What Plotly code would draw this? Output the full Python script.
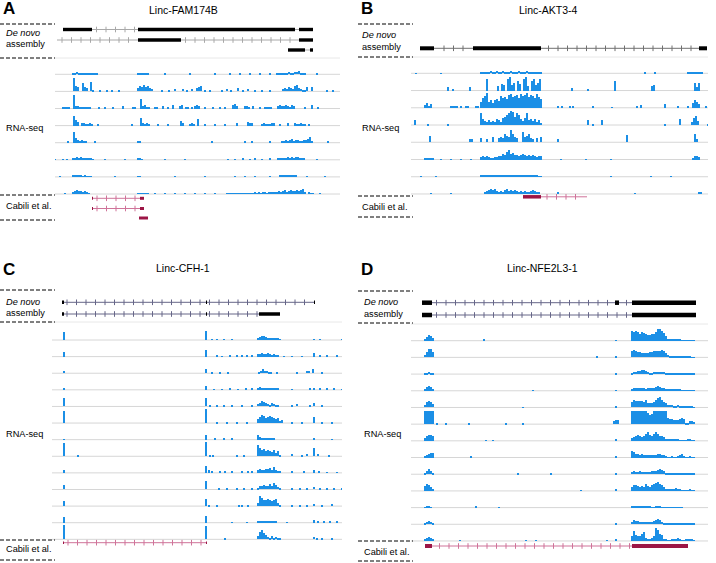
import numpy as np
import plotly.graph_objects as go

STEP = 2  # coverage bin step (position units)

# ---------------- Panel A: Linc-FAM174B ----------------
A_TRACKS = [
    [[18, [1, 1.5, 2, 1.5, 1, 1, 1.2, 1, 0.8, 1, 0.8, 1, 0.5]], [83, [1, 0.8, 1, 0.6, 0.8, 1]],
     [110, [0.6]], [135, [0.5]], [160, [0.6]], [175, [0.8]], [185, [0.6]], [195, [0.8]], [205, [0.8]], [215, [0.6]],
     [222, [1, 1.2, 1, 1.5, 1.3, 1.5, 2, 1.8, 1.5, 2.5, 2, 3, 1.2, 0.8, 1.5]], [262, [0.5]]],
    [[19, [13, 5, 4]], [28, [8, 4, 3]], [36, [9, 1]], [45, [1]], [52, [1]], [57, [1]], [64, [1]],
     [83, [3, 5, 4, 6, 4, 5, 3, 2]], [107, [1]], [114, [1.5]], [120, [2]], [128, [2]], [132, [1]], [137, [2]],
     [142, [3, 4, 5]], [150, [1]], [155, [1]], [167, [1]], [172, [2]], [176, [1.5]], [183, [3]], [188, [1.5]],
     [193, [2]], [200, [1.5]], [207, [1]], [215, [1]], [228, [2, 3, 2, 4, 3, 2, 5, 6, 3, 2, 1, 1, 4]],
     [257, [4]], [272, [1]], [278, [1]]],
    [[8, [1, 2, 1, 2]], [19, [14, 3, 3, 2, 2, 2, 1.5, 2, 1.5]], [44, [1]], [50, [1]], [58, [1]], [68, [3]],
     [78, [2, 2]], [86, [10, 3, 4, 2, 2]], [100, [2, 2]], [108, [3]], [113, [2]], [118, [4]], [125, [3, 4]],
     [131, [2, 2]], [137, [2]], [140, [3, 4, 3]], [150, [1]], [158, [1]], [165, [1]], [170, [1]],
     [178, [4, 5, 3]], [190, [3, 3, 1]], [198, [3]], [205, [1]], [210, [2, 2, 1, 2]],
     [223, [3, 4, 3, 3, 4, 3, 2, 4, 3]], [250, [1]], [257, [4]], [263, [2]]],
    [[19, [10, 6, 4]], [27, [3, 3, 2, 2, 3, 2]], [43, [1]], [77, [1]], [86, [8, 3, 2, 3, 2]], [103, [2]],
     [113, [1.5]], [126, [5, 3]], [135, [2, 3, 2]], [143, [7]], [150, [2]], [160, [1]], [170, [2]], [182, [3]],
     [193, [4, 3, 3]], [207, [2, 3, 2, 2, 1, 3, 3]], [225, [2]], [233, [3]], [240, [3, 2, 2, 3, 2, 1]],
     [254, [1]]],
    [[13, [1]], [19, [11, 5, 3, 2, 3, 2, 1]], [40, [1]], [83, [2, 2]], [157, [1]], [190, [1]], [197, [2]],
     [215, [2]], [227, [1, 2, 3, 2, 3, 4, 2, 3, 3, 2, 2, 3, 3, 4, 6, 1]], [273, [1]]],
    [[0, [0.5]], [8, [0.5]], [12, [0.5]], [18, [1.5, 2, 2.5, 2, 2.5, 2, 1.5, 2, 1.5, 1, 0.8]], [50, [0.5]],
     [70, [0.5]], [83, [1, 1, 0.8]], [110, [0.5]], [130, [0.5]], [173, [0.8]], [180, [0.8]], [188, [1]],
     [195, [0.8]], [200, [1]], [207, [0.8]], [215, [1]],
     [223, [1.5, 2, 1.5, 2, 2, 2.5, 2, 3, 2, 2.5, 3, 2, 1.5, 1]], [262, [0.5]]],
    [[5, [0.5]], [18, [1, 1, 1.2, 1, 1, 0.8, 1, 0.8, 0.8, 0.5]], [60, [0.5]], [83, [0.8, 0.5]], [120, [0.5]],
     [150, [0.5]], [180, [0.8]], [190, [0.6]], [200, [0.8]], [215, [0.8]],
     [225, [1, 1, 1.2, 1, 1.5, 1.2, 1, 1.5, 1]], [252, [0.8]], [270, [0.5]]],
    [[10, [0.5]], [18, [2, 3, 4, 3, 3, 2, 3, 2, 1]], [83, [1, 1, 0.8, 1, 1, 0.8]], [100, [0.8]], [110, [0.8]],
     [120, [1]], [130, [0.8]], [140, [1]], [150, [0.8]], [160, [1]],
     [172, [1, 0.8, 1, 1, 0.8, 1, 1, 0.8, 1, 1, 1, 0.8, 1, 1, 1.2, 1, 1.5, 1, 1.2, 1.5, 1, 1.5, 1.2, 1.5, 2]],
     [222, [2, 3, 2, 3, 4, 2, 3, 4, 3, 3, 4, 3, 4, 5, 2]], [254, [1.5, 1, 1]], [265, [0.5]]],
]
A_GENE_SPANS = [[8, 258], [2, 258], [233, 258]]
A_GENE_EXONS = [[[8, 37], [83, 240], [244, 258]], [[83, 126], [244, 258]], [[233, 250], [255, 258]]]
A_CAB_SPANS = [[37, 89], [37, 89], [84, 93]]
A_CAB_EXONS = [[[37, 38], [85, 89]], [[37, 38], [85, 89]], [[84, 93]]]

# ---------------- Panel B: Linc-AKT3-4 ----------------
B_TRACKS = [
    [[5, [0.3]], [30, [0.3]],
     [70, [1, 1.5, 1, 1.5, 1.2, 2, 1.5, 1.2, 2, 1.5, 1.5, 2, 1.5, 1.2, 1.5, 2, 1.5, 1.2, 1.5, 2, 1.5, 1.5, 1.2, 2,
           1.5, 1.5, 1.2, 1.5, 1.2, 1.5, 1]], [234, [0.5]], [244, [0.5]], [277, [1, 0.5, 1, 0.5, 1, 1.5, 1, 0.5]]],
    [[37, [4]], [42, [1]], [59, [4]], [76, [12]],
     [87, [5, 0, 7, 6, 0, 12, 14, 6, 8, 0, 10, 7, 0, 12, 14, 5, 0, 10, 12, 6, 8, 12]],
     [161, [3]], [177, [2]], [204, [10]], [241, [5, 6]], [284, [8, 4, 8]]],
    [[14, [3, 5, 2, 4]], [40, [1, 1, 1.5, 1, 0, 1.5]], [55, [1.5, 1.5]], [65, [1, 2]],
     [70, [6, 10, 12, 15, 6, 8, 5, 8, 9, 7, 12, 10, 11, 9, 13, 14, 11, 12, 13, 10, 14, 12, 13, 15, 11, 13, 12, 10,
           14, 11, 9]],
     [147, [1]], [151, [1]], [159, [2]], [162, [1.5]], [182, [1]], [201, [0.5]], [226, [2]], [230, [3]],
     [254, [4]], [267, [2]], [277, [2]], [282, [5, 8, 6, 4]], [295, [1]]],
    [[4, [5]], [17, [1]], [37, [0.5]],
     [70, [12, 6, 4, 3, 5, 3, 4, 3, 6, 5, 3, 7, 8, 10, 12, 14, 13, 8, 12, 10, 6, 4, 7, 12, 5, 6, 4, 6, 3, 5, 2]],
     [177, [5]], [182, [1]], [191, [5]], [254, [1]], [269, [6]], [281, [3, 7, 9, 4]], [297, [1]]],
    [[19, [6]], [59, [3, 3]],
     [70, [4, 0, 0, 3, 0, 0, 5, 0, 0, 4, 5, 4, 8, 6, 5, 12, 8, 5, 4, 0, 0, 10, 5, 6, 8, 4, 3, 0, 4, 0, 5]],
     [147, [3]], [216, [7]], [284, [8, 3]]],
    [[14, [1.5, 1.5, 1, 1.5, 1]], [30, [0.5]], [40, [0.5]], [50, [0.5]], [60, [0.5]],
     [70, [3, 4, 3, 4, 3, 2, 2, 3, 3, 4, 4, 6, 5, 8, 10, 6, 7, 5, 5, 4, 5, 6, 5, 4, 5, 4, 5, 4, 3, 4, 4]],
     [150, [0.5]], [175, [0.5]], [200, [0.5]], [282, [2, 4, 4, 3]]],
    [[10, [0.5]], [25, [0.5]],
     [70, [1, 1, 1.2, 1, 1, 1, 1, 1.2, 1.5, 1.5, 2, 2, 1.5, 1, 1, 0.8, 1, 1, 1.2, 1, 1, 1, 1, 0.8, 1, 1, 1, 1, 0.8,
           0.5, 0.5]],
     [200, [0.5]], [240, [0.5]], [260, [0.5]]],
    [[20, [0.5]], [40, [0.5]],
     [74, [2, 3, 4, 5, 4, 5, 3, 2, 3, 2, 4, 5, 3, 4, 3, 4, 3, 2, 3, 2, 3, 2, 1.5, 3, 4, 3, 2, 1]],
     [147, [1]], [224, [0.5]], [288, [1, 1]]],
]
B_GENE_SPANS = [[9, 296]]
B_GENE_EXONS = [[[9, 23], [62, 130], [288, 296]]]
B_CAB_SPANS = [[112, 176]]
B_CAB_EXONS = [[[112, 130]]]

# ---------------- Panel C: Linc-CFH-1 ----------------
C_TRACKS = [
    [[12, [8]], [154, [9]], [160, [1]], [165, [0.5]], [172, [1]], [180, [1]],
     [206, [2, 3, 4, 4, 3, 2, 1.5, 1.5, 1.5, 1.5, 1.5, 1]], [262, [1]], [268, [0.5]], [290, [0.5]]],
    [[12, [5]], [154, [7]], [165, [1]], [170, [0.5]], [178, [1]], [185, [1]], [190, [1]], [195, [1]], [200, [1]],
     [206, [3, 3, 4, 3, 3, 4, 3, 2, 3, 1.5, 1]], [232, [0.5]], [240, [0.5]], [250, [0.5]], [262, [4]],
     [268, [1]], [275, [1]], [285, [1]]],
    [[12, [2]], [154, [4]], [160, [1]], [168, [0.5]], [176, [0.5]], [207, [1, 2, 4, 2, 2, 1, 1]], [225, [1]],
     [245, [0.5]], [255, [2, 2, 0, 4]], [270, [1]]],
    [[12, [2]], [154, [4]], [162, [0.5]], [170, [0.5]], [178, [1]], [186, [0.5]], [194, [1]], [200, [1]],
     [206, [2, 3, 2, 2, 2, 1.5, 2, 1.5, 1.5, 1, 1]], [240, [0.5]], [258, [1]], [262, [1]], [268, [1]],
     [275, [1]], [282, [1]], [290, [0.5]]],
    [[12, [8]], [154, [8]], [158, [1]], [165, [1]], [172, [1]], [180, [1]], [190, [1]], [200, [1]],
     [206, [2, 3, 5, 4, 3, 2, 1.5, 3, 2, 1, 0.5]], [240, [1]], [245, [2]], [258, [1.5]], [262, [3]], [270, [1]]],
    [[12, [12]], [154, [14]], [165, [0.5]], [175, [0.5]], [185, [0.5]], [195, [0.5]],
     [206, [4, 6, 8, 7, 5, 6, 7, 6, 5, 4, 5, 2]], [230, [3]], [240, [0.5]], [250, [0.5]], [262, [6]],
     [270, [1.5]], [280, [0.5]]],
    [[12, [0.5]], [154, [5]], [163, [2]], [172, [1]], [180, [1]], [206, [5, 3, 2, 2, 2, 2, 1.5, 2, 1]],
     [262, [1]], [280, [0.5]]],
    [[12, [13]], [26, [1]], [154, [14]], [158, [1]], [161, [1]], [185, [1]], [192, [1.5]],
     [206, [11, 8, 6, 7, 5, 6, 5, 4, 6, 3, 5, 1]], [240, [2]], [250, [1]], [255, [2]], [262, [8]], [266, [2]],
     [277, [1.5]]],
    [[12, [3]], [154, [7]], [157, [3]], [160, [1]], [168, [1.5]], [173, [2]], [180, [1]], [190, [1.5]],
     [196, [1]], [200, [1]], [206, [3, 4, 3, 3, 4, 4, 5, 3, 6, 3, 2, 1.5]], [240, [1]], [252, [2]], [262, [3]],
     [267, [1]], [275, [0.5]], [285, [0.5]]],
    [[12, [4]], [154, [8]], [167, [1]], [175, [1]], [185, [1]], [192, [1]], [200, [1]],
     [206, [1, 3, 3, 4, 3, 3, 5, 3, 6, 4, 2, 1]], [240, [1]], [248, [1]], [255, [1.5]], [262, [2]], [268, [1]],
     [275, [1.5]], [282, [1]], [290, [1]]],
    [[12, [5]], [154, [7]], [157, [1]], [165, [0.5]], [187, [1]], [190, [1]], [196, [1]],
     [206, [3, 10, 8, 6, 6, 7, 6, 5, 6, 7, 3, 1]], [240, [0.5]], [248, [1]], [255, [1]], [262, [2]], [270, [1]],
     [280, [2]]],
    [[12, [6]], [154, [7]], [180, [0.5]], [195, [0.5]], [206, [1, 2, 1.5, 1.5, 1, 1.5, 1, 1, 1, 1]], [235, [0.5]],
     [262, [3]], [266, [1]], [272, [1]], [278, [1]], [285, [1]]],
    [[12, [14]], [154, [13]], [173, [0.5]], [206, [3, 7, 9, 6, 4, 2, 1, 3, 1, 2, 1, 0.5]], [262, [2]], [265, [1]],
     [270, [1]], [280, [0.5]]],
]
C_GENE_SPANS = [[10, 263], [10, 228]]
C_GENE_EXONS = [[[10, 12], [154, 155], [262, 263]], [[10, 12], [154, 155], [207, 228]]]
C_CAB_SPANS = [[11, 155]]
C_CAB_EXONS = [[[11, 12], [154, 155]]]

# ---------------- Panel D: Linc-NFE2L3-1 ----------------
D_TRACKS = [
    [[14, [2, 4, 6, 5, 3]], [73, [1]], [205, [0.5]],
     [221, [10, 9, 10, 9, 7, 9, 8, 7, 6, 6, 7, 7, 9, 12, 12, 10, 8, 5, 2, 2, 2, 1, 1, 2, 1, 0.5, 0.5, 0.5, 0.5, 0.5,
            0.5, 0.3]]],
    [[14, [2, 5, 8, 8, 5]], [186, [0.5]], [205, [1.5]],
     [221, [6, 7, 6, 5, 5, 4, 4, 4, 4, 5, 5, 6, 6, 6, 6, 7, 6, 4, 2, 1.5, 1, 1, 1.5, 1.5, 1.5, 1, 0.5, 0.5, 0.5, 0.5,
            0.3, 0.3]]],
    [[14, [0.5, 1.5, 2, 1.5, 0.5]], [205, [0.3]],
     [221, [1.5, 2, 2.5, 3, 3, 4, 4, 3, 2, 1.5, 1.5, 2, 2.5, 2.5, 2, 2, 2, 1, 0.5, 0.5, 0.5, 0.5, 0.5, 0.5, 0.5,
            0.3, 0.3, 0.3, 0.3, 0.3, 0.3, 0.3]]],
    [[14, [1.5, 4, 5, 4, 2]], [122, [0.5]], [205, [0.5]],
     [221, [2, 3, 3, 2.5, 3, 2.5, 3, 2, 2.5, 3, 2.5, 3, 4, 5, 4, 3, 3, 2, 1, 1, 1, 1, 2, 2, 1, 0.5, 0.5, 0.5, 0.5,
            0.5, 0.5, 0.3]]],
    [[14, [2, 5, 6, 5, 3]], [112, [0.3]], [205, [0.5]],
     [221, [5, 7, 6, 6, 6, 6, 5, 7, 4, 4, 4, 5, 7, 9, 10, 7, 5, 4, 2, 2, 2, 1.5, 1.5, 2, 1.5, 0.5, 0.5, 1, 1, 1,
            0.5, 0.3]]],
    [[14, [13, 13, 13, 13, 13]], [26, [0.5]], [35, [0.5]], [58, [0.5]], [95, [0.5]], [112, [0.5]],
     [203, [3, 4, 4]],
     [221, [13, 13, 13, 13, 13, 13, 13, 13, 11, 9, 10, 13, 13, 13, 13, 13, 13, 13, 6, 5, 5, 4, 4, 4, 5, 6, 5, 1, 1,
            3, 3, 2]]],
    [[14, [3, 5, 6, 6, 5]], [75, [0.5]], [82, [0.5]], [205, [1.5]],
     [221, [3, 4, 5, 6, 5, 4, 5, 7, 9, 6, 5, 7, 9, 7, 5, 5, 4, 2, 1.5, 1.5, 1, 1, 1, 1, 0.5, 0.5, 0.5, 0.5, 1, 1,
            0.5, 0.3]]],
    [[14, [2, 3, 4, 5, 5]], [60, [1]], [205, [1.5]],
     [221, [7, 6, 4, 4, 3, 4, 3, 3, 3, 3, 3, 3, 3, 4, 4, 3, 3, 2, 0.5, 0.5, 1.5, 0.5, 0.5, 2, 3, 4, 2, 0.5, 0.5, 1,
            0.5, 0.3]]],
    [[14, [1, 3, 5, 3, 1.5]], [107, [0.5]], [140, [1]], [205, [0.5]],
     [221, [2, 3, 2, 2, 3, 2, 2, 2, 2, 2, 3, 3, 3, 4, 5, 4, 3, 1, 0.5, 0.5, 1, 0.5, 0.5, 0.5, 0.5, 0.5, 0.5, 0.5,
            0.5, 1, 0.5, 0.3]]],
    [[14, [5, 7, 6, 4, 2]], [170, [0.5]], [205, [2]],
     [221, [4, 6, 6, 5, 4, 5, 4, 7, 5, 4, 6, 7, 8, 9, 7, 6, 4, 2, 1.5, 1, 2, 2, 3, 2, 1, 0.5, 0.5, 0.5, 0.5, 1,
            0.5, 0.3]]],
    [[14, [0.5, 1, 1, 0.5]], [65, [1]], [88, [0.3]],
     [221, [1.5, 1.5, 1, 1, 1, 1, 0.8, 0.8, 0.8, 0.8, 0.5, 0.5, 0.8, 1, 0.8, 0.5, 0.5, 0.5, 0.5, 0.5, 0.3, 0.3,
            0.3, 0.3, 0.5, 0.3]]],
    [[14, [1, 2, 3, 2, 1]], [205, [0.5]],
     [221, [2, 4, 3, 3, 2, 2, 2, 2, 2, 2, 2, 3, 4, 5, 4, 2, 1.5, 1, 1, 1, 0.5, 0.5, 0.5, 0.5, 1, 0.5, 0.5, 0.3, 0.3,
            0.3, 0.3, 0.3]]],
    [[14, [1, 3, 4, 3, 1]], [49, [0.5]], [115, [0.5]], [125, [0.5]], [196, [0.5]], [205, [1]],
     [221, [5, 10, 6, 5, 5, 7, 9, 3, 2, 2, 3, 5, 13, 11, 7, 6, 2, 1, 0.5, 0.5, 1, 1, 2, 3, 1, 0.5, 0.5, 1, 1, 1, 1,
            0.5]]],
]
D_GENE_SPANS = [[11, 285], [11, 285]]
D_GENE_EXONS = [[[11, 21], [204, 208], [221, 285]], [[11, 21], [221, 285]]]
D_CAB_SPANS = [[14, 277]]
D_CAB_EXONS = [[[14, 21], [221, 277]]]

TITLES = ["Linc-FAM174B", "Linc-AKT3-4", "Linc-CFH-1", "Linc-NFE2L3-1"]
LETTERS = ["A", "B", "C", "D"]

# ---------------- layout geometry (pixels) ----------------
W, H = 716, 563
BLUE = "#1b8fe6"
CRIMSON = "#9c1646"
CAB_LINE = "#cf7399"
FONT = "Liberation Sans, Arial, sans-serif"

PANELS = [
    dict(tracks=A_TRACKS, gspans=A_GENE_SPANS, gexons=A_GENE_EXONS, cspans=A_CAB_SPANS, cexons=A_CAB_EXONS,
         gl=55, gr=340, top=16, bottom=228, gene_y=[29.5, 40, 50], rna0=74.3, dy=17.1, cab_y=[198.3, 208.5, 218],
         sep=58, exon_h=3.4, cab_h=3, intron="#a8a8a8", barw=1.3,
         dash=[24, 58, 195, 220], lx=0, lab_x=4, lab_y=[33, 44.5, 128, 205.5],
         letter=(1, 8), title=(183, 10)),
    dict(tracks=B_TRACKS, gspans=B_GENE_SPANS, gexons=B_GENE_EXONS, cspans=B_CAB_SPANS, cexons=B_CAB_EXONS,
         gl=411, gr=708, top=16, bottom=228, gene_y=[48.3], rna0=73.3, dy=17.24, cab_y=[196.8],
         sep=57, exon_h=4, cab_h=3.5, intron="#707070", barw=1.7,
         dash=[24, 57, 196, 217], lx=358, lab_x=360, lab_y=[35.5, 47, 128, 207],
         letter=(359, 8), title=(548, 10)),
    dict(tracks=C_TRACKS, gspans=C_GENE_SPANS, gexons=C_GENE_EXONS, cspans=C_CAB_SPANS, cexons=C_CAB_EXONS,
         gl=52, gr=342, top=290, bottom=560, gene_y=[302.3, 314], rna0=340, dy=16.61, cab_y=[542.7],
         sep=322, exon_h=3.5, cab_h=2.5, intron="#666688", barw=1.4,
         dash=[290, 322, 540, 560], lx=0, lab_x=4, lab_y=[301.5, 313, 434, 549],
         letter=(1, 269), title=(183, 268)),
    dict(tracks=D_TRACKS, gspans=D_GENE_SPANS, gexons=D_GENE_EXONS, cspans=D_CAB_SPANS, cexons=D_CAB_EXONS,
         gl=411, gr=708, top=290, bottom=560, gene_y=[302.7, 315], rna0=340.7, dy=16.69, cab_y=[546],
         sep=324, exon_h=4.5, cab_h=4, intron="#666688", barw=2.1,
         dash=[291, 323, 541, 561], lx=358, lab_x=362, lab_y=[302, 313.5, 434, 551.5],
         letter=(359, 269), title=(542, 268)),
]

fig = go.Figure()
shapes, annotations = [], []
layout_axes = {}


def py(px):
    return 1 - px / H


def px_x(px):
    return px / W


for k, P in enumerate(PANELS):
    n = "" if k == 0 else str(k + 1)
    xa, ya = "x" + n, "y" + n
    top, bottom = P["top"], P["bottom"]
    width = P["gr"] - P["gl"]
    layout_axes["xaxis" + n] = dict(domain=[px_x(P["gl"]), px_x(P["gr"])], range=[0, width], visible=False,
                                    fixedrange=True, anchor=ya)
    layout_axes["yaxis" + n] = dict(domain=[py(bottom), py(top)], range=[top - bottom, 0], visible=False,
                                    fixedrange=True, anchor=xa)

    def Y(p, top=top):
        return top - p

    # grid / baseline lines
    for i in range(len(P["tracks"])):
        b = Y(P["rna0"] + i * P["dy"])
        shapes.append(dict(type="line", xref=xa, yref=ya, x0=0, x1=width, y0=b, y1=b,
                           line=dict(color="#d6d6d6", width=1), layer="below"))
    shapes.append(dict(type="line", xref=xa, yref=ya, x0=0, x1=width, y0=Y(P["sep"]), y1=Y(P["sep"]),
                       line=dict(color="#e8e8e8", width=1), layer="below"))

    # coverage bars
    xs, hs, bs = [], [], []
    for i, runs in enumerate(P["tracks"]):
        b = Y(P["rna0"] + i * P["dy"])
        for start, vals in runs:
            for j, h in enumerate(vals):
                if h > 0:
                    xs.append(start + j * STEP)
                    hs.append(h)
                    bs.append(b)
    fig.add_trace(go.Bar(x=xs, y=hs, base=bs, width=P["barw"], xaxis=xa, yaxis=ya,
                         marker=dict(color=BLUE, line=dict(width=0)), showlegend=False, hoverinfo="skip"))

    # gene models (de novo assembly + Cabili et al.)
    def draw_models(spans, exons, rows, line_col, exon_col, eh):
        for (s0, s1), ex, row in zip(spans, exons, rows):
            yy = Y(row)
            fig.add_trace(go.Scatter(x=[s0, s1], y=[yy, yy], mode="lines", line=dict(color=line_col, width=1),
                                     xaxis=xa, yaxis=ya, showlegend=False, hoverinfo="skip"))
            ticks = [t for t in np.arange(s0 + 5, s1 - 2, 9.5)
                     if not any(e0 - 1 <= t <= e1 + 1 for e0, e1 in ex)]
            if ticks:
                fig.add_trace(go.Scatter(x=ticks, y=[yy] * len(ticks), mode="markers",
                                         marker=dict(symbol="line-ns", size=4, line=dict(color=line_col, width=1)),
                                         xaxis=xa, yaxis=ya, showlegend=False, hoverinfo="skip"))
            for e0, e1 in ex:
                shapes.append(dict(type="rect", xref=xa, yref=ya, x0=e0, x1=e1, y0=yy - eh / 2, y1=yy + eh / 2,
                                   fillcolor=exon_col, line=dict(width=0)))

    draw_models(P["gspans"], P["gexons"], P["gene_y"], P["intron"], "#000000", P["exon_h"])
    draw_models(P["cspans"], P["cexons"], P["cab_y"], CAB_LINE, CRIMSON, P["cab_h"])

    # dashed separators in label column
    for d in P["dash"]:
        shapes.append(dict(type="line", xref="paper", yref="paper", x0=px_x(P["lx"]), x1=px_x(P["lx"] + 55),
                           y0=py(d), y1=py(d), line=dict(color="#000000", width=1, dash="4px,2px")))

    # labels
    labs = ["<i>De novo</i>", "assembly", "RNA-seq", "Cabili et al."]
    for t, yv in zip(labs, P["lab_y"]):
        annotations.append(dict(text=t, x=px_x(P["lab_x"]), y=py(yv), xref="paper", yref="paper",
                                xanchor="left", yanchor="middle", showarrow=False,
                                font=dict(family=FONT, size=9.2, color="#000")))
    annotations.append(dict(text="<b>" + LETTERS[k] + "</b>", x=px_x(P["letter"][0]), y=py(P["letter"][1]),
                            xref="paper", yref="paper", xanchor="left", yanchor="middle", showarrow=False,
                            font=dict(family=FONT, size=17, color="#000")))
    annotations.append(dict(text=TITLES[k], x=px_x(P["title"][0]), y=py(P["title"][1]),
                            xref="paper", yref="paper", xanchor="center", yanchor="middle", showarrow=False,
                            font=dict(family=FONT, size=10.5, color="#000")))

fig.update_layout(width=W, height=H, margin=dict(l=0, r=0, t=0, b=0), paper_bgcolor="white",
                  plot_bgcolor="rgba(0,0,0,0)", barmode="overlay", bargap=0, shapes=shapes,
                  annotations=annotations, showlegend=False, **layout_axes)
fig.write_html("out.html", config=dict(displayModeBar=False),
               post_script="document.body.style.margin='0px';document.body.style.overflow='hidden';")
